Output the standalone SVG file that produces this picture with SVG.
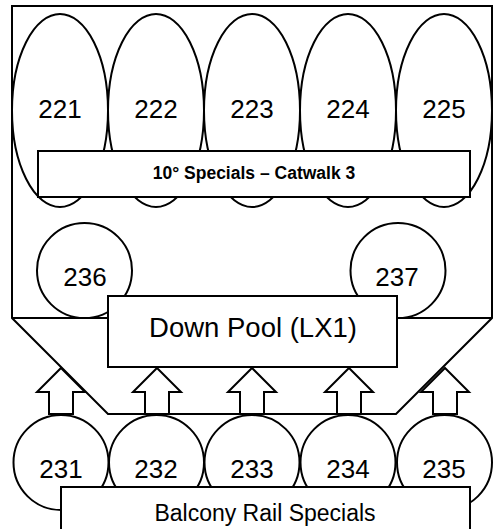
<svg xmlns="http://www.w3.org/2000/svg" width="504" height="529" viewBox="0 0 504 529">
<style>
.s{fill:none;stroke:#000;stroke-width:2}
.b{fill:#fff;stroke:#000;stroke-width:2}
.t{font-family:"Liberation Sans",Arial,sans-serif;fill:#000;text-anchor:middle}
.n{font-size:26px}
</style>
<defs>
<path id="arr" d="M0,0 L24,24 L12,24 L12,46 L-12,46 L-12,24 L-24,24 Z" fill="#fff" stroke="#000" stroke-width="2" stroke-linejoin="miter"/>
</defs>
<rect fill="#fff" width="504" height="529"/>
<g id="frame">
<path class="s" d="M12,6 H492 V318 L396,414 H108 L12,318 Z M12,318 H492"/>
</g>
<g id="n221"><ellipse class="s" cx="60" cy="110.5" rx="48" ry="96.5"/><text class="t n" x="60" y="118">221</text></g>
<g id="n222"><ellipse class="s" cx="156" cy="110.5" rx="48" ry="96.5"/><text class="t n" x="156" y="118">222</text></g>
<g id="n223"><ellipse class="s" cx="252" cy="110.5" rx="48" ry="96.5"/><text class="t n" x="252" y="118">223</text></g>
<g id="n224"><ellipse class="s" cx="348" cy="110.5" rx="48" ry="96.5"/><text class="t n" x="348" y="118">224</text></g>
<g id="n225"><ellipse class="s" cx="444" cy="110.5" rx="48" ry="96.5"/><text class="t n" x="444" y="118">225</text></g>
<g id="catwalk"><rect class="b" x="38" y="151" width="432" height="46"/><text class="t" x="254" y="179" font-size="17.5" font-weight="bold">10° Specials – Catwalk 3</text></g>
<g id="n236"><circle class="s" cx="84.5" cy="270.5" r="47.5"/><text class="t n" x="85" y="286">236</text></g>
<g id="n237"><circle class="s" cx="398" cy="270.5" r="47.5"/><text class="t n" x="397" y="286">237</text></g>
<g id="downpool"><rect class="b" x="108" y="296" width="289" height="71"/><text class="t" x="253" y="337" font-size="27.5">Down Pool (LX1)</text></g>
<g id="connectors">
<use href="#arr" x="61" y="368"/>
<use href="#arr" x="157" y="368"/>
<use href="#arr" x="252" y="368"/>
<use href="#arr" x="349" y="368"/>
<use href="#arr" x="445" y="368"/>
</g>
<g id="n231"><circle class="s" cx="61" cy="462.5" r="47.5"/><text class="t n" x="61" y="478">231</text></g>
<g id="n232"><circle class="s" cx="156.5" cy="462.5" r="47.5"/><text class="t n" x="156" y="478">232</text></g>
<g id="n233"><circle class="s" cx="252" cy="462.5" r="47.5"/><text class="t n" x="252" y="478">233</text></g>
<g id="n234"><circle class="s" cx="348" cy="462.5" r="47.5"/><text class="t n" x="348" y="478">234</text></g>
<g id="n235"><circle class="s" cx="444.5" cy="462.5" r="47.5"/><text class="t n" x="444" y="478">235</text></g>
<g id="balcony"><rect class="b" x="61" y="487" width="409" height="60"/><text class="t" x="265" y="521" font-size="23">Balcony Rail Specials</text></g>
</svg>
